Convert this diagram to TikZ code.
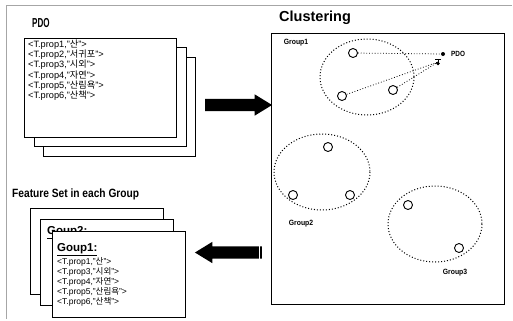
\documentclass[tikz,border=0pt]{standalone}
\usepackage{fontspec}
\usepackage{graphicx}
\setmainfont{Liberation Sans}
\newfontfamily\kr{Noto Sans CJK KR}
\usetikzlibrary{shapes.arrows}
\newcommand\propline[2]{<T.prop#1,"{\kr #2}">}
\begin{document}
\begin{tikzpicture}[x=1bp,y=-1bp,
  sheet/.style={draw=black, line width=1bp, fill=white, anchor=north west, inner sep=0,
                minimum width=152bp, minimum height=99bp},
  gsheet/.style={sheet, minimum width=133bp, minimum height=86bp},
  ptext/.style={anchor=base west, inner sep=0, font=\fontsize{9.2bp}{10bp}\selectfont},
  gtext/.style={anchor=base west, inner sep=0, font=\fontsize{8.5bp}{10bp}\selectfont},
  ghead/.style={anchor=base west, inner sep=0, font=\bfseries\fontsize{11.5bp}{13bp}\selectfont},
  glabel/.style={inner sep=0, font=\bfseries\fontsize{7.6bp}{9bp}\selectfont},
  member/.style={circle, draw=black, line width=0.9bp, fill=white, minimum size=9bp, inner sep=0},
  cluster/.style={draw=black, line width=1bp, dotted},
  link/.style={draw=black, line width=0.8bp, dotted},
  bigarrow/.style={single arrow, fill=black, draw=none, inner sep=6bp,
                   minimum height=67bp, minimum width=21bp,
                   single arrow head extend=4.5bp, single arrow tip angle=63}
]
\useasboundingbox (0,0) rectangle (513,320);

% frame
\draw[gray!70, line width=0.7bp] (6,319) -- (6,5) -- (512,5);

% ---- PDO stack ----
\node[inner sep=0, anchor=west, font=\bfseries\fontsize{13bp}{14bp}\selectfont] (pdotitle) at (32,23) {\scalebox{0.62}[1]{PDO}};
\node[sheet] (pdo3) at (43,57) {};
\node[sheet] (pdo2) at (34,47) {};
\node[sheet] (pdo1) at (24,38) {};
\foreach \n/\w/\y in {1/산/47.3, 2/서귀포/57.6, 3/시외/67.9, 4/자연/78.2, 5/산림욕/88.5, 6/산책/98.8}
  \node[ptext] (pl\n) at (28,\y) {\propline{\n}{\w}};

% ---- group feature sets ----
\node[inner sep=0, anchor=west, font=\bfseries\fontsize{12bp}{13bp}\selectfont] (fstitle) at (12,194)
  {\scalebox{0.85}[1]{Feature Set in each Group}};
\node[gsheet] (gs3) at (30,208) {};
\node[gsheet] (gs2) at (40,219) {};
\node[ghead] (g2head) at (47,234.5) {\underline{Goup2:}};
\node[gsheet] (gs1) at (52,231) {};
\node[ghead] (g1head) at (57,251) {\underline{Goup1:}};
\foreach \n/\w/\y in {1/산/264, 3/시외/274, 4/자연/284, 5/산림욕/294, 6/산책/304}
  \node[gtext] (gl\n) at (57,\y) {\propline{\n}{\w}};

% ---- clustering ----
\node[inner sep=0, anchor=west, font=\bfseries\fontsize{14.5bp}{16bp}\selectfont] (cltitle) at (279,18) {Clustering};
\draw[line width=1bp] (271,33) rectangle (504,304);

\draw[cluster] (367,77) ellipse [x radius=47, y radius=38];
\draw[cluster] (322,172) ellipse [x radius=48, y radius=38];
\draw[cluster] (435,224) ellipse [x radius=47, y radius=38];

\node[glabel] (lab1) at (296,43) {\scalebox{0.9}[1]{Group1}};
\node[glabel] (lab2) at (301,224) {\scalebox{0.9}[1]{Group2}};
\node[glabel] (lab3) at (455,273) {\scalebox{0.9}[1]{Group3}};

% query object and its neighbours
\node[circle, fill=black, minimum size=4bp, inner sep=0] (qpt) at (443,54) {};
\node[inner sep=0, minimum size=3bp] (qmark) at (438,62) {};
\node[glabel, anchor=west, font=\bfseries\fontsize{7.5bp}{9bp}\selectfont] (qlab) at (451,54) {\scalebox{0.85}[1]{PDO}};

\node[member] (a1) at (353,53) {};
\node[member] (a2) at (342,96) {};
\node[member] (a3) at (393,90) {};
\node[member] (b1) at (328,147) {};
\node[member] (b2) at (293,195) {};
\node[member] (b3) at (350,195) {};
\node[member] (c1) at (408,205) {};
\node[member] (c2) at (459,248) {};

\draw[link] (a1) -- (qpt);
\draw[link] (a2) -- (qmark.center);
\draw[link] (a3) -- (qmark.center);
\draw[line width=1bp] (435,59) -- (441,59) (438,59) -- (438,65);
\fill (438,63.5) circle [radius=1.8];

% ---- flow arrows ----
\node[bigarrow] (toright) at (233.5,105) {};
\node[bigarrow, shape border rotate=180] (toleft) at (233.5,252.5) {};
\draw[white, line width=0.9bp] (204,98) -- (204,112);
\draw[white, line width=0.9bp] (259,246) -- (259,259);
\end{tikzpicture}
\end{document}
